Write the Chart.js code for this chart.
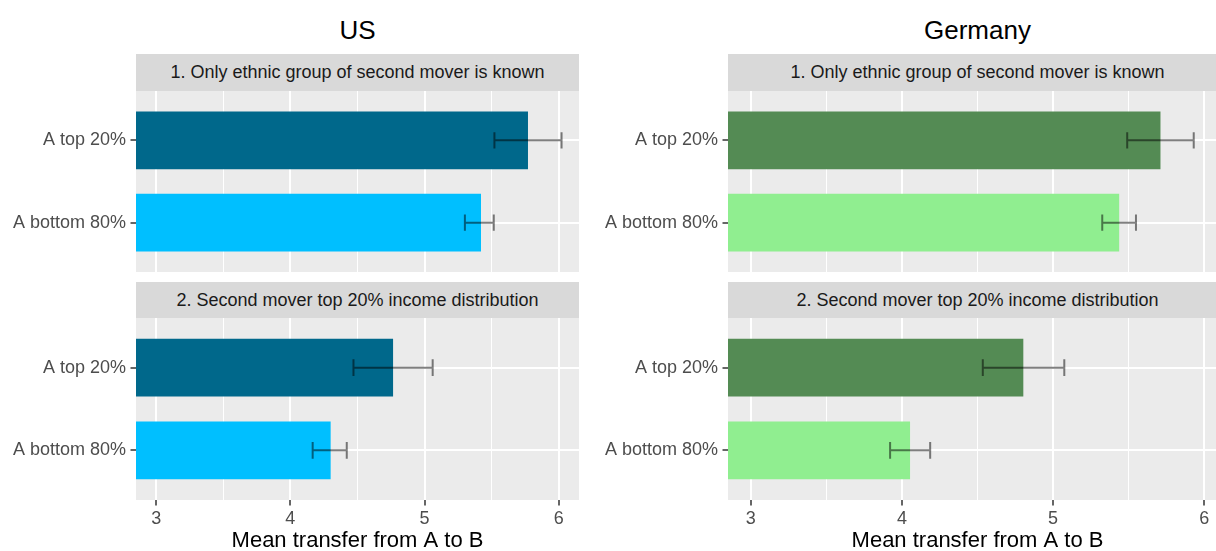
<!DOCTYPE html>
<html>
<head>
<meta charset="utf-8">
<script src="https://cdn.jsdelivr.net/npm/chart.js@4"></script>
<style>
  body { margin: 0; width: 1216px; height: 551px; overflow: hidden; background: #fff; position: relative;
         font-family: 'Liberation Sans', Arial, sans-serif; }
  .title { position: absolute; font-size: 26px; color: #000; text-align: center; }
  .strip { position: absolute; background: #d9d9d9; color: #1a1a1a; font-size: 18px;
           display: flex; align-items: center; justify-content: center; }
  canvas { position: absolute; }
</style>
</head>
<body>
<script>
const FONT = "'Liberation Sans', Arial, sans-serif";

// data
const categories = ['A top 20%', 'A bottom 80%'];
const facetLabels = ['1. Only ethnic group of second mover is known', '2. Second mover top 20% income distribution'];
const countries = ['US', 'Germany'];
const xTicks = [3, 3.5, 4, 4.5, 5, 5.5, 6];
const xMin = 2.85, xMax = 6.15;
const xTitle = 'Mean transfer from A to B';

const usMean1 = [5.77, 5.42];
const usLow1  = [5.52, 5.30];
const usHigh1 = [6.02, 5.515];
const usMean2 = [4.765, 4.30];
const usLow2  = [4.47, 4.166];
const usHigh2 = [5.06, 4.42];

const deMean1 = [5.71, 5.437];
const deLow1  = [5.49, 5.325];
const deHigh1 = [5.93, 5.548];
const deMean2 = [4.803, 4.054];
const deLow2  = [4.535, 3.922];
const deHigh2 = [5.074, 4.187];

const usColors = ['#00688B', '#00BFFF'];
const deColors = ['#548B54', '#90EE90'];

// layout of the two columns and two facet rows
const columns = [
  { left: 0,   axisW: 136, width: 579, colors: usColors,
    means: [usMean1, usMean2], lows: [usLow1, usLow2], highs: [usHigh1, usHigh2] },
  { left: 600, axisW: 128, width: 627, colors: deColors,
    means: [deMean1, deMean2], lows: [deLow1, deLow2], highs: [deHigh1, deHigh2] }
];
const rows = [
  { stripTop: 54,  stripH: 37, top: 91,  height: 181, bottom: false },
  { stripTop: 282, stripH: 36, top: 318, height: 240, bottom: true }
];

// grey panel background behind the grid
const panelBg = {
  id: 'panelBg',
  beforeDraw(chart) {
    const a = chart.chartArea, c = chart.ctx;
    c.save();
    c.fillStyle = '#EBEBEB';
    c.fillRect(a.left, a.top, a.right - a.left, a.bottom - a.top);
    c.restore();
  }
};

// error bars drawn through the scales
const errorBars = {
  id: 'errorBars',
  afterDatasetsDraw(chart, args, opts) {
    const xs = chart.scales.x, ys = chart.scales.y, c = chart.ctx;
    c.save();
    c.strokeStyle = 'rgba(0,0,0,0.5)';
    c.lineWidth = 2;
    c.beginPath();
    opts.lo.forEach((lo, i) => {
      const yc = ys.getPixelForValue(i + 1);
      const h = Math.abs(ys.getPixelForValue(i + 1.1) - yc);
      const x1 = xs.getPixelForValue(lo), x2 = xs.getPixelForValue(opts.hi[i]);
      c.moveTo(x1, yc - h); c.lineTo(x1, yc + h);
      c.moveTo(x1, yc); c.lineTo(x2, yc);
      c.moveTo(x2, yc - h); c.lineTo(x2, yc + h);
    });
    c.stroke();
    c.restore();
  }
};

function noPad(sc) {
  sc.paddingTop = 0; sc.paddingBottom = 0; sc.paddingLeft = 0; sc.paddingRight = 0;
}

columns.forEach((col, ci) => {
  const plotLeft = col.left + col.axisW;
  const plotW = col.width - col.axisW;

  const t = document.createElement('div');
  t.className = 'title';
  t.textContent = countries[ci];
  Object.assign(t.style, { left: plotLeft + 'px', width: plotW + 'px', top: '12px', height: '36px', lineHeight: '36px' });
  document.body.appendChild(t);

  rows.forEach((row, ri) => {
    const s = document.createElement('div');
    s.className = 'strip';
    s.textContent = facetLabels[ri];
    Object.assign(s.style, { left: plotLeft + 'px', width: plotW + 'px', top: row.stripTop + 'px', height: row.stripH + 'px' });
    document.body.appendChild(s);

    const cv = document.createElement('canvas');
    cv.width = col.width;
    cv.height = row.height;
    cv.style.left = col.left + 'px';
    cv.style.top = row.top + 'px';
    document.body.appendChild(cv);

    const isBottom = row.bottom;
    const major = v => Math.abs(v - Math.round(v)) < 1e-9;

    new Chart(cv, {
      type: 'bar',
      data: {
        datasets: [{
          data: col.means[ri].map((v, i) => ({ x: v, y: i + 1 })),
          backgroundColor: col.colors,
          base: xMin,
          categoryPercentage: 1,
          barPercentage: 0.7
        }]
      },
      options: {
        indexAxis: 'y',
        responsive: false,
        animation: false,
        layout: { padding: 0 },
        plugins: {
          legend: { display: false },
          tooltip: { enabled: false },
          errorBars: { lo: col.lows[ri], hi: col.highs[ri] }
        },
        scales: {
          x: {
            type: 'linear', min: xMin, max: xMax, offset: false,
            afterBuildTicks: sc => { sc.ticks = xTicks.map(v => ({ value: v })); },
            afterFit: sc => { sc.height = isBottom ? 58 : 0; noPad(sc); },
            grid: {
              offset: false,
              color: '#ffffff',
              lineWidth: c => (c.tick && major(c.tick.value)) ? 2 : 1,
              tickColor: c => (c.tick && major(c.tick.value)) ? '#333333' : 'rgba(0,0,0,0)',
              tickWidth: 1.5,
              tickLength: 5.5,
              drawTicks: isBottom
            },
            border: { display: false },
            ticks: {
              display: isBottom, autoSkip: false, maxRotation: 0, padding: 3,
              color: '#4D4D4D', font: { size: 18, family: FONT },
              callback: v => major(v) ? String(v) : ''
            },
            title: {
              display: isBottom, text: xTitle, color: '#000',
              font: { size: 22, family: FONT }, padding: { top: 0, bottom: 4 }
            }
          },
          y: {
            type: 'linear', min: 0.4, max: 2.6, reverse: true, offset: false,
            afterBuildTicks: sc => { sc.ticks = categories.map((c, i) => ({ value: i + 1 })); },
            afterFit: sc => { sc.width = col.axisW; noPad(sc); },
            grid: { offset: false, color: '#ffffff', lineWidth: 2, tickColor: '#333333', tickWidth: 1.5, tickLength: 5.5 },
            border: { display: false },
            ticks: {
              color: '#4D4D4D', font: { size: 18, family: FONT }, padding: 4.5,
              callback: v => categories[v - 1]
            }
          }
        }
      },
      plugins: [panelBg, errorBars]
    });
  });
});
</script>
</body>
</html>
